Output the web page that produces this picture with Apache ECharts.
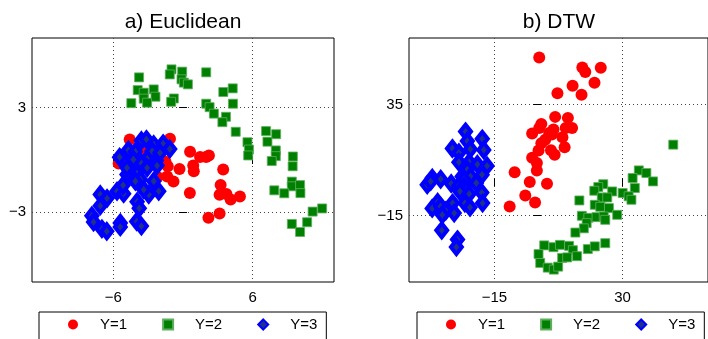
<!DOCTYPE html>
<html>
<head>
<meta charset="utf-8">
<script src="https://cdn.jsdelivr.net/npm/echarts@6/dist/echarts.min.js"></script>
<style>
html,body{margin:0;padding:0;background:#fff;}
#chart{width:708px;height:339px;}
</style>
</head>
<body>
<div id="chart"></div>
<script>
// ---- data ----
const classNames = ['Y=1', 'Y=2', 'Y=3'];
const titleA = 'a) Euclidean';
const titleB = 'b) DTW';
const eucXTicks = [-6, 6];
const eucYTicks = [-3, 3];
const dtwXTicks = [-15, 30];
const dtwYTicks = [-15, 35];

const eucClass1 = [[-4.59,1.18],[-1.12,1.22],[-3.38,0.60],[-4.53,-0.06],[-5.54,-0.20],[-1.94,0.13],[-1.51,-0.10],[-1.31,-0.36],[-2.17,0.03],[0.61,0.47],[1.47,0.17],[1.99,0.17],[2.23,0.26],[-0.30,-0.52],[0.88,-0.32],[0.93,-0.64],[3.46,-0.55],[-2.20,-0.98],[-1.36,-0.95],[-0.82,-1.24],[0.59,-1.89],[3.24,-1.44],[3.15,-1.99],[3.74,-1.95],[4.10,-2.27],[4.90,-2.09],[3.15,-3.07],[2.19,-3.32],[-2.80,0.60],[-3.67,0.03]];
const eucClass2 = [[-3.78,4.74],[-0.99,5.20],[-1.14,4.91],[-0.07,5.07],[-0.13,4.63],[0.07,4.44],[0.42,4.34],[2.00,5.03],[-3.90,4.01],[-3.38,3.86],[-2.52,4.05],[-2.37,3.63],[-3.38,3.52],[-3.09,3.29],[-4.45,3.26],[-0.79,3.53],[-1.02,3.34],[3.47,3.90],[4.28,4.11],[4.30,3.23],[2.00,3.23],[2.29,3.03],[2.66,2.66],[3.70,2.48],[3.39,2.17],[4.54,1.62],[7.15,1.66],[8.02,1.48],[5.55,1.02],[7.27,1.05],[5.68,0.60],[5.61,0.26],[7.99,0.55],[7.99,0.22],[9.46,0.20],[9.44,-0.36],[7.64,-0.06],[9.37,-1.24],[9.37,-1.51],[10.08,-1.44],[10.11,-1.90],[7.86,-1.74],[8.72,-1.91],[11.16,-2.96],[11.98,-2.78],[9.37,-3.67],[10.69,-3.57],[10.08,-4.13]];
const eucClass3 = [[-3.58,1.12],[-3.15,1.18],[-2.52,0.89],[-1.71,0.94],[-1.14,0.63],[-4.70,0.57],[-4.10,0.48],[-5.46,0.16],[-2.95,0.17],[-2.29,-0.03],[-3.67,-0.11],[-2.66,0.51],[-1.98,0.41],[-4.82,-0.83],[-3.97,-0.78],[-3.67,-1.12],[-4.10,-1.22],[-2.52,-1.22],[-5.68,-1.79],[-5.11,-1.93],[-7.12,-1.98],[-6.54,-2.20],[-7.12,-2.63],[-2.95,-1.98],[-2.09,-1.79],[-3.38,-1.70],[-3.95,-2.39],[-3.77,-2.77],[-7.84,-3.20],[-7.70,-3.56],[-5.40,-3.61],[-5.40,-3.84],[-6.98,-3.95],[-6.56,-4.09],[-3.99,-3.53],[-3.58,-3.79],[-4.82,-0.45],[-3.09,-0.45],[-2.23,-0.32],[-5.16,-1.45],[-4.27,0.03]];

const dtwClass1 = [[0.73,56.24],[15.87,51.72],[16.92,49.69],[22.34,51.58],[20.14,44.81],[12.45,43.45],[15.59,39.38],[7.13,40.06],[6.33,29.44],[10.80,28.99],[1.47,26.19],[0.73,24.47],[5.73,23.70],[4.23,22.21],[12.27,24.47],[10.03,24.47],[-1.75,21.90],[2.83,19.18],[8.88,20.22],[1.47,17.51],[9.65,15.80],[0.49,14.30],[4.86,14.44],[6.15,12.41],[-1.75,11.05],[-0.10,8.66],[-0.10,5.31],[-7.90,4.50],[-2.59,0.07],[3.46,-0.70],[-4.16,-5.99],[-0.73,-9.15],[-9.65,-10.96],[5.14,21.44]];
const dtwClass2 = [[47.80,16.92],[35.70,5.31],[38.36,4.14],[40.70,0.34],[33.53,1.88],[34.30,-2.64],[30.03,-4.90],[32.13,-6.35],[33.11,-7.93],[23.22,-0.92],[21.47,-2.19],[20.07,-3.86],[26.36,-4.18],[22.69,-6.89],[24.62,-6.89],[14.83,-8.24],[20.24,-10.19],[22.17,-11.09],[25.21,-11.68],[28.11,-14.71],[15.70,-15.16],[17.97,-16.06],[20.87,-15.75],[23.39,-15.47],[23.92,-16.97],[17.38,-18.46],[16.40,-20.81],[13.43,-22.71],[2.48,-28.49],[5.73,-29.30],[8.01,-28.26],[11.22,-28.71],[12.55,-30.66],[14.02,-33.37],[17.80,-30.16],[20.24,-28.94],[23.92,-27.49],[0.49,-32.42],[1.08,-36.40],[3.71,-38.52],[5.84,-39.42],[7.38,-38.07],[8.78,-34.14],[10.56,-33.91]];
const dtwClass3 = [[-25.14,22.80],[-24.51,18.51],[-19.27,19.55],[-23.46,14.89],[-18.74,14.53],[-29.76,15.21],[-27.48,13.31],[-27.48,9.02],[-23.88,9.02],[-20.98,8.07],[-17.59,7.35],[-24.58,5.63],[-19.34,3.37],[-26.33,2.60],[-23.39,2.60],[-36.82,1.88],[-33.88,1.34],[-38.60,-1.15],[-30.17,-0.61],[-25.73,1.11],[-25.73,-1.92],[-21.36,-0.38],[-27.48,-1.60],[-27.13,-4.18],[-23.88,-5.31],[-19.44,-4.67],[-19.16,-9.42],[-25.38,-9.42],[-23.57,-11.32],[-34.93,-9.06],[-36.85,-11.81],[-33.88,-10.96],[-32.06,-12.90],[-29.69,-9.42],[-29.13,-13.94],[-33.32,-14.71],[-33.50,-21.71],[-27.97,-25.87],[-28.36,-29.26],[-37.38,0.34]];

// ---- chart ----
const FONT = 'Liberation Sans, Arial, Helvetica, sans-serif';
const minus = v => String(v).replace('-', '\u2212');

function xAx(grid, min, max, ticks, pos, main) {
  return {
    type: 'value', gridIndex: grid, min: min, max: max, position: pos,
    axisLine: { show: false },
    axisTick: { show: true, inside: true, length: 4, customValues: ticks, lineStyle: { color: '#000', width: 1 } },
    axisLabel: { show: main, customValues: ticks, formatter: minus, color: '#000', fontSize: 15, fontFamily: FONT, margin: 8 },
    splitLine: { show: main, lineStyle: { color: '#444', width: 1, type: [1, 3] } }
  };
}
function yAx(grid, min, max, ticks, pos, main) {
  return {
    type: 'value', gridIndex: grid, min: min, max: max, position: pos,
    axisLine: { show: false },
    axisTick: { show: true, inside: true, length: 4, customValues: ticks, lineStyle: { color: '#000', width: 1 } },
    axisLabel: { show: main, customValues: ticks, formatter: minus, color: '#000', fontSize: 15, fontFamily: FONT, margin: 6 },
    splitLine: { show: main, lineStyle: { color: '#444', width: 1, type: [1, 3] } }
  };
}

const styles = [
  { symbol: 'circle', symbolSize: 12, itemStyle: { color: '#ff0000', opacity: 1 } },
  { symbol: 'rect', symbolSize: 9, itemStyle: { color: '#008000', borderColor: '#5fae5f', borderWidth: 0.8, opacity: 1 } },
  { symbol: 'diamond', symbolSize: [11, 14], itemStyle: { color: '#1e3288', borderColor: '#0000ff', borderWidth: 4, opacity: 1 } }
];

function mk(name, data, xi, yi, st) {
  return Object.assign({
    name: name, type: 'scatter', xAxisIndex: xi, yAxisIndex: yi, data: data,
    animation: false, emphasis: { disabled: true }, z: 3
  }, JSON.parse(JSON.stringify(st)));
}

function legendCfg(left) {
  return {
    data: classNames, left: left, top: 312, orient: 'horizontal',
    itemWidth: 10, itemHeight: 10, itemGap: 35,
    padding: [5, 9, 30, 29],
    borderColor: '#000', borderWidth: 1, backgroundColor: '#fff',
    textStyle: { fontSize: 15, fontFamily: FONT, color: '#000', padding: [0, 0, 0, 17] },
    selectedMode: false
  };
}

const chart = echarts.init(document.getElementById('chart'), null, { renderer: 'canvas' });
chart.setOption({
  animation: false,
  backgroundColor: '#fff',
  title: [
    { text: titleA, left: 178, top: 7, textAlign: 'center', textStyle: { fontSize: 21, fontWeight: 'normal', color: '#000', fontFamily: FONT } },
    { text: titleB, left: 554, top: 7, textAlign: 'center', textStyle: { fontSize: 21, fontWeight: 'normal', color: '#000', fontFamily: FONT } }
  ],
  grid: [
    { left: 32, top: 38, width: 302, height: 244, show: true, borderColor: '#000', borderWidth: 1, backgroundColor: 'transparent' },
    { left: 409, top: 38, width: 300, height: 244, show: true, borderColor: '#000', borderWidth: 1, backgroundColor: 'transparent' }
  ],
  xAxis: [
    xAx(0, -13, 13, eucXTicks, 'bottom', true),
    xAx(0, -13, 13, eucXTicks, 'top', false),
    xAx(1, -45, 60, dtwXTicks, 'bottom', true),
    xAx(1, -45, 60, dtwXTicks, 'top', false)
  ],
  yAxis: [
    yAx(0, -7, 7, eucYTicks, 'left', true),
    yAx(0, -7, 7, eucYTicks, 'right', false),
    yAx(1, -45, 65, dtwYTicks, 'left', true),
    yAx(1, -45, 65, dtwYTicks, 'right', false)
  ],
  legend: [legendCfg(39), legendCfg(417)],
  series: [
    mk(classNames[0], eucClass1, 0, 0, styles[0]),
    mk(classNames[1], eucClass2, 0, 0, styles[1]),
    mk(classNames[2], eucClass3, 0, 0, styles[2]),
    mk(classNames[0], dtwClass1, 2, 2, styles[0]),
    mk(classNames[1], dtwClass2, 2, 2, styles[1]),
    mk(classNames[2], dtwClass3, 2, 2, styles[2])
  ]
});
</script>
</body>
</html>
